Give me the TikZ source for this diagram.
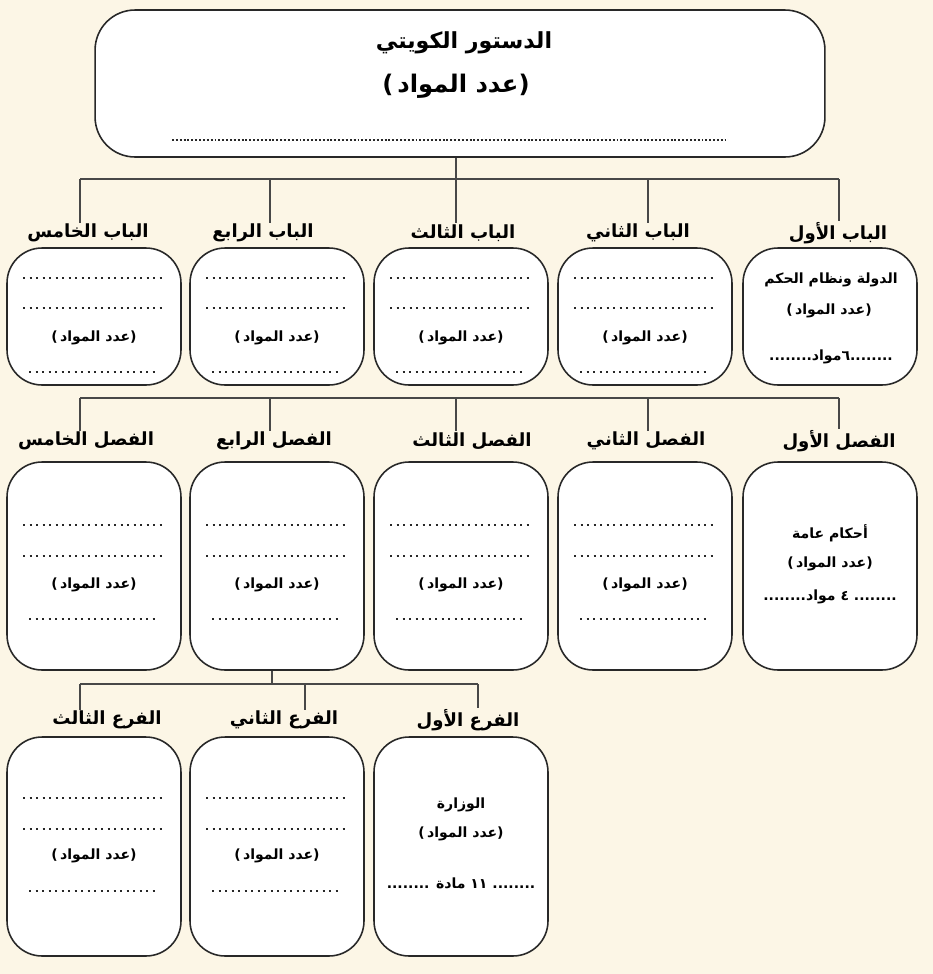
\documentclass[tikz,border=0pt]{standalone}
\usepackage{fontspec}
\usetikzlibrary{calc}
\TeXXeTstate=1
\newfontfamily\arabicfont[Script=Arabic]{DejaVu Sans}
\newfontfamily\latinfont{DejaVu Sans}
\definecolor{cream}{RGB}{252,246,230}
\definecolor{edge}{RGB}{40,40,40}
\newcommand{\ar}[1]{{\arabicfont\beginR #1\endR}}
\newcommand{\nmawad}{(\,\ar{عدد المواد})}
\tikzset{
  bx/.style={draw=edge, line width=0.9pt, fill=white, rounded corners=0.7cm,
    minimum width=3.48cm, inner sep=0pt},
  head/.style={font=\latinfont\bfseries\fontsize{10.3}{12}\selectfont, inner sep=0.5pt},
  txt/.style={font=\latinfont\bfseries\fontsize{8}{9.5}\selectfont, inner sep=0.5pt},
  big/.style={font=\latinfont\bfseries\fontsize{12.6}{15}\selectfont, inner sep=0.5pt},
  blank/.style={draw=edge, line width=1.3pt, dash pattern=on 1.3pt off 2.4pt},
  bus/.style={draw=edge!85, line width=0.7pt},
}

\begin{document}
\begin{tikzpicture}[x=0.02cm, y=-0.02cm]
\fill[cream] (0,0) rectangle (933,974);

% the constitution
\node[bx, rounded corners=0.8cm, minimum width=14.6cm, minimum height=2.94cm] (dst) at (460,83.5) {};
\node[big] (dst1) at (464,43) {\ar{الدستور الكويتي}};
\node[big, font=\latinfont\bfseries\fontsize{13.8}{15}\selectfont] (dst2) at (456,86) {\nmawad};
\draw[blank, line width=1.1pt, dash pattern=on 1.1pt off 1.1pt] (172,140) -- (725,140);

% boxes of the three rows
\foreach \c/\cx in {1/830, 2/645, 3/461, 4/277, 5/94} {
  \node[bx, minimum height=2.74cm] (bab\c) at (\cx,316.5) {};
  \node[bx, minimum height=4.16cm] (fasl\c) at (\cx,566) {};
}
\foreach \c/\cx in {1/461, 2/277, 3/94}
  \node[bx, minimum height=4.38cm] (far\c) at (\cx,846.5) {};

% titles over the boxes
\foreach \c/\lx/\nm in {1/838/الأول, 2/638/الثاني, 3/463/الثالث, 4/263/الرابع, 5/88/الخامس} {
  \node[head] (lbab\c) at (\lx,233) {\ar{الباب \nm}};
}
\foreach \c/\lx/\nm in {1/839/الأول, 2/646/الثاني, 3/472/الثالث, 4/274/الرابع, 5/86/الخامس} {
  \node[head] (lfasl\c) at (\lx,441) {\ar{الفصل \nm}};
}
\foreach \c/\lx/\nm in {1/468/الأول, 2/284/الثاني, 3/107/الثالث} {
  \node[head] (lfar\c) at (\lx,720) {\ar{الفرع \nm}};
}

% buses
\foreach \c/\bx in {1/839, 2/648, 3/456, 4/270, 5/80} {
  \coordinate (t\c) at (\bx,179);
  \coordinate (s\c) at (\bx,398);
  \draw[bus] (t\c) -- (t\c |- lbab\c.north);
  \draw[bus] (s\c) -- (s\c |- lfasl\c.north);
}
\draw[bus] (dst.south -| t3) -- (t3);
\draw[bus] (t5) -- (t1);
\draw[bus] (s5) -- (s1);
\coordinate (r0) at (272,684);
\foreach \c/\bx in {1/478, 2/305, 3/80} {
  \coordinate (r\c) at (\bx,684);
  \draw[bus] (r\c) -- (r\c |- lfar\c.north);
}
\draw[bus] (fasl4.south -| r0) -- (r0);
\draw[bus] (r3) -- (r1);

% blank lines
\foreach \cx in {645, 461, 277, 94} {
  \draw[blank] (\cx-71,278) -- (\cx+70,278);
  \draw[blank] (\cx-71,308) -- (\cx+70,308);
  \node[txt] at (\cx,338) {\nmawad};
  \draw[blank] (\cx-65,372) -- (\cx+63,372);
  \draw[blank] (\cx-71,525) -- (\cx+70,525);
  \draw[blank] (\cx-71,556) -- (\cx+70,556);
  \node[txt] at (\cx,585) {\nmawad};
  \draw[blank] (\cx-65,619) -- (\cx+63,619);
}
\foreach \cx in {277, 94} {
  \draw[blank] (\cx-71,798) -- (\cx+70,798);
  \draw[blank] (\cx-71,829) -- (\cx+70,829);
  \node[txt] at (\cx,856) {\nmawad};
  \draw[blank] (\cx-65,891) -- (\cx+63,891);
}

% filled in entries
\node[txt] (bab1a) at (831,280) {\ar{الدولة ونظام الحكم}};
\node[txt] (bab1b) at (829,311) {\nmawad};
\node[txt] (bab1c) at (831,357) {........\ar{٦مواد}........};
\node[txt] (fasl1a) at (830,533) {\ar{أحكام عامة}};
\node[txt] (fasl1b) at (830,564) {\nmawad};
\node[txt] (fasl1c) at (830,597) {........\ar{٤ مواد} ........};
\node[txt] (far1a) at (461,805) {\ar{الوزارة}};
\node[txt] (far1b) at (461,834) {\nmawad};
\node[txt] (far1c) at (461,883) {........ \ar{١١ مادة} ........};
\end{tikzpicture}
\end{document}
